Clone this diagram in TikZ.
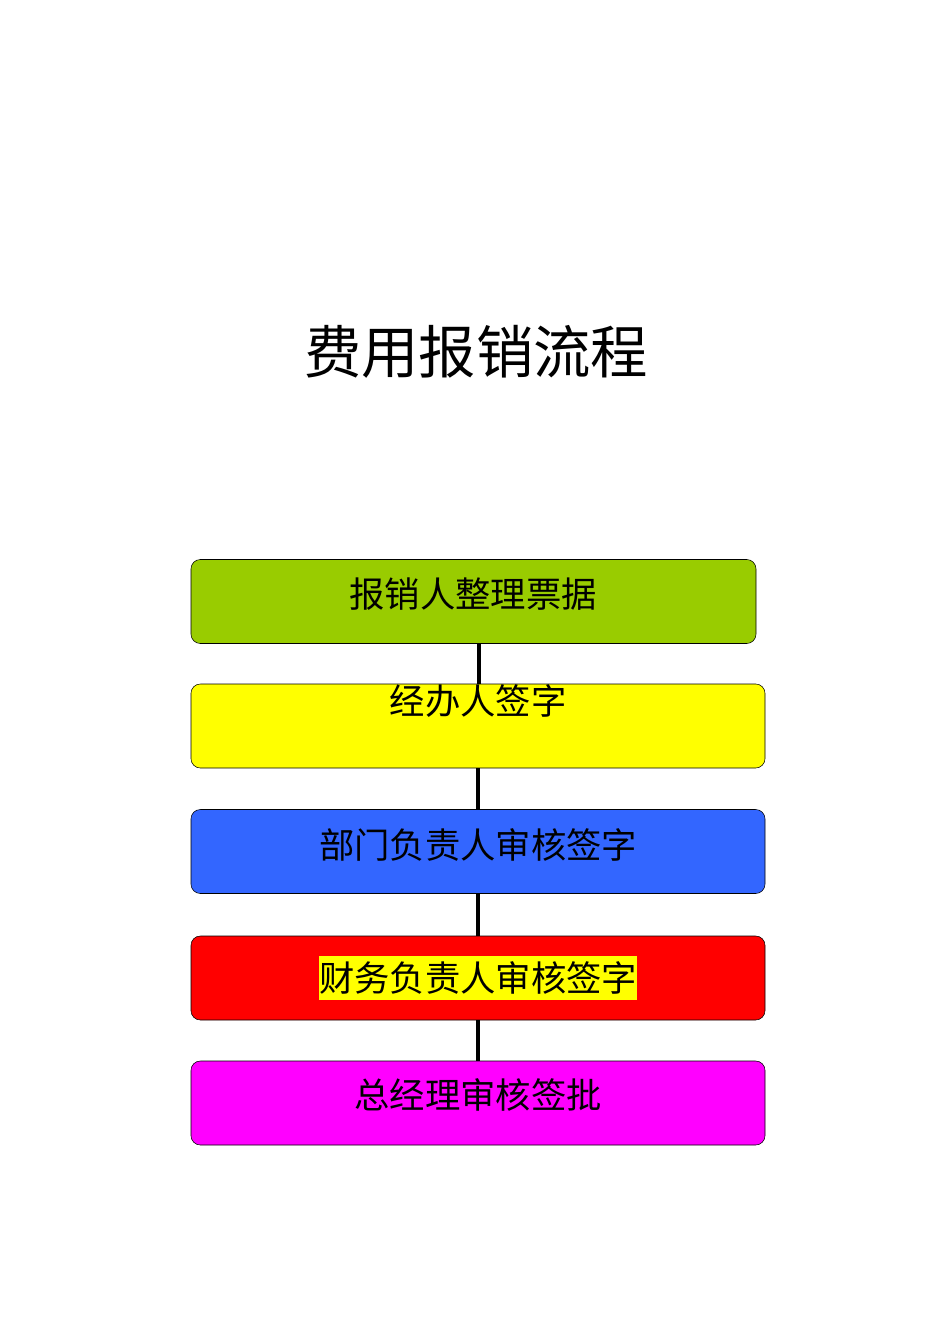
\documentclass[tikz,border=0pt]{standalone}
\usepackage{fontspec}
\newfontfamily\cjk{Noto Sans CJK SC}
\usepackage{tikz}
\definecolor{vert}{HTML}{99CC00}
\definecolor{jaune}{HTML}{FFFF00}
\definecolor{bleu}{HTML}{3366FF}
\definecolor{rouge}{HTML}{FF0000}
\definecolor{magenta}{HTML}{FF00FF}
\tikzstyle{etape} = [rectangle, rounded corners=7pt, draw=black, minimum height=63pt, minimum width=430.5pt, inner sep=0pt]
\tikzstyle{texte} = [font=\cjk\fontsize{26.5pt}{30pt}\selectfont, inner sep=0pt]
\tikzstyle{lien} = [line width=2.3pt]

\begin{document}
\begin{tikzpicture}[x=0.75pt,y=-0.75pt]
        \useasboundingbox (0,0) rectangle (950,1344);

        \node (titre) [font=\cjk\fontsize{43pt}{50pt}\selectfont] at (476,352) {费用报销流程};

        \node (b1) [etape, fill=vert, minimum width=423.75pt] at (473.5,601.5) {};
        \node (b2) [etape, fill=jaune]   at (478,726) {};
        \node (b3) [etape, fill=bleu]    at (478,851.5) {};
        \node (b4) [etape, fill=rouge]   at (478,978) {};
        \node (b5) [etape, fill=magenta] at (478,1103) {};

        \draw[lien] (479,643) coordinate (c1) -- (b2.north -| c1);
        \draw[lien] (b2.south) -- (b3.north);
        \draw[lien] (b3.south) -- (b4.north);
        \draw[lien] (b4.south) -- (b5.north);

        \node (t1) [texte] at (473,594) {报销人整理票据};
        \node (t2) [texte] at (478,701) {经办人签字};
        \node (t3) [texte] at (478,845) {部门负责人审核签字};
        \node (t4) [texte, fill=jaune, inner ysep=4pt] at (478,978) {财务负责人审核签字};
        \node (t5) [texte] at (478,1095) {总经理审核签批};
    \end{tikzpicture}
\end{document}
